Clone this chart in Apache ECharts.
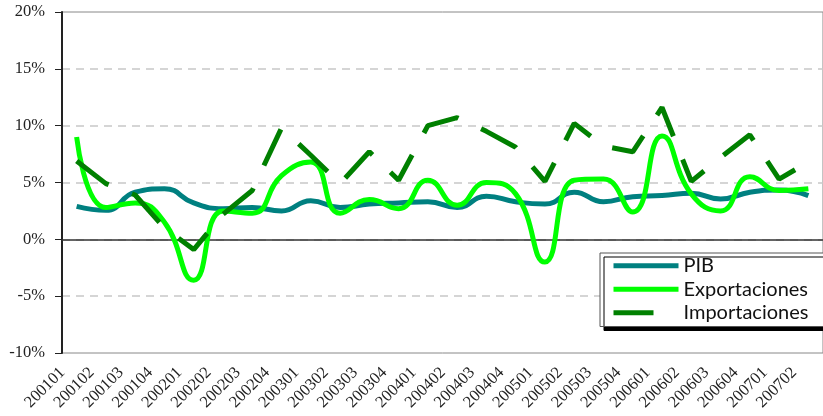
<!DOCTYPE html>
<html>
<head>
<meta charset="utf-8">
<script src="https://cdn.jsdelivr.net/npm/echarts@6/dist/echarts.min.js"></script>
<style>
  html, body { margin: 0; padding: 0; background: #fff; }
  #chart { width: 823px; height: 416px; }
</style>
</head>
<body>
<div id="chart"></div>
<script>
// trimestres 2001T1 .. 2007T2
const categories = [
  "200101", "200102", "200103", "200104",
  "200201", "200202", "200203", "200204",
  "200301", "200302", "200303", "200304",
  "200401", "200402", "200403", "200404",
  "200501", "200502", "200503", "200504",
  "200601", "200602", "200603", "200604",
  "200701", "200702"
];

const pib = [2.9, 2.55, 4.15, 4.45, 3.2, 2.7, 2.8, 2.5, 3.4, 2.8, 3.1, 3.2, 3.3,
  2.8, 3.8, 3.3, 3.1, 4.15, 3.3, 3.75, 3.85, 4.05, 3.55, 4.15, 4.35, 3.85];

const exportaciones = [9.0, 2.8, 3.2, 1.5, -3.6, 2.5, 2.3, 5.6, 6.8, 2.3, 3.5, 2.7, 5.2,
  3.0, 5.0, 4.0, -2.0, 5.2, 5.3, 2.4, 9.1, 4.0, 2.5, 5.5, 4.3, 4.45];

const importaciones = [6.9, 4.9, 3.9, 1.0, -0.9, 2.2, 4.3, 9.8, 7.4, 4.9, 7.7, 5.2, 10.0,
  10.7, 9.5, 8.1, 5.1, 10.2, 8.2, 7.7, 11.6, 5.1, 7.2, 9.2, 5.3, 6.8];

const yTicks = [-10, -5, 0, 5, 10, 15, 20];

let myChart = echarts.init(document.getElementById("chart"));

myChart.setOption({
  animation: false,
  grid: {
    left: 62,
    top: 12,
    width: 772,
    height: 341,
    show: true,
    borderColor: "#888",
    borderWidth: 1
  },
  legend: {
    orient: "vertical",
    left: 600,
    top: 253,
    padding: [2, 16, 3, 11],
    itemGap: 2,
    itemWidth: 65,
    itemHeight: 10,
    backgroundColor: "#fff",
    borderColor: "#555",
    borderWidth: 1,
    shadowColor: "#000",
    shadowBlur: 0,
    shadowOffsetX: 4,
    shadowOffsetY: 4,
    itemStyle: { opacity: 0 },
    lineStyle: { width: 5, cap: "butt" },
    textStyle: {
      fontFamily: "Lato",
      fontSize: 20,
      lineHeight: 21.5,
      color: "#111"
    },
    data: ["PIB", "Exportaciones", "Importaciones"]
  },
  xAxis: {
    type: "category",
    data: categories,
    boundaryGap: true,
    axisLine: { lineStyle: { color: "#333", width: 1.5 } },
    axisTick: { length: 4, lineStyle: { color: "#333" } },
    axisLabel: {
      interval: 0,
      rotate: 45,
      margin: 3,
      padding: [0, 20, 0, 0],
      fontFamily: "Liberation Serif",
      fontSize: 16.5,
      color: "#222"
    }
  },
  yAxis: {
    type: "value",
    min: yTicks[0],
    max: yTicks[yTicks.length - 1],
    interval: 5,
    axisLine: { show: true, lineStyle: { color: "#222", width: 2 } },
    axisTick: { show: true, length: 7, lineStyle: { color: "#222" } },
    axisLabel: {
      margin: 17,
      formatter: "{value}%",
      fontFamily: "Liberation Serif",
      fontSize: 16.5,
      color: "#222"
    },
    splitLine: {
      lineStyle: {
        color: ["transparent", "#c8c8c8", "#c8c8c8", "#c8c8c8", "#c8c8c8", "#c8c8c8", "transparent"],
        type: [8, 6],
        width: 1.5
      }
    }
  },
  series: [
    {
      name: "PIB",
      type: "line",
      data: pib,
      smooth: 0.5,
      showSymbol: false,
      symbol: "none",
      color: "#008080",
      lineStyle: { color: "#008080", width: 5 }
    },
    {
      name: "Exportaciones",
      type: "line",
      data: exportaciones,
      smooth: 0.5,
      showSymbol: false,
      symbol: "none",
      color: "#00ff00",
      lineStyle: { color: "#00ff00", width: 5 }
    },
    {
      name: "Importaciones",
      type: "line",
      data: importaciones,
      showSymbol: false,
      symbol: "none",
      color: "#008000",
      lineStyle: { color: "#008000", width: 5, type: [40, 25], cap: "butt" }
    }
  ]
});
</script>
</body>
</html>
